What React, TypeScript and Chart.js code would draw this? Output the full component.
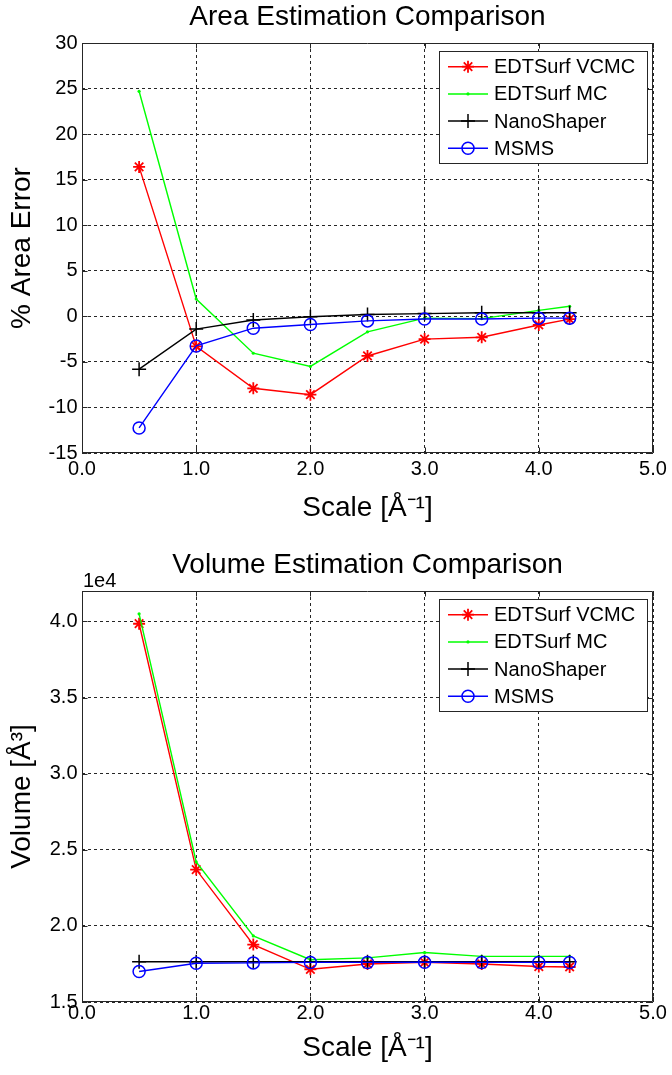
import React, { useEffect, useRef } from 'react';
import { Chart, registerables } from 'chart.js';

Chart.register(...registerables);

const FONT = '"Liberation Sans", Arial, Helvetica, sans-serif';

// ---- data ----
const scaleValues = [0.5, 1.0, 1.5, 2.0, 2.5, 3.0, 3.5, 4.0, 4.27];
const seriesNames = ['EDTSurf VCMC', 'EDTSurf MC', 'NanoShaper', 'MSMS'];

const areaVCMC = [16.4, -3.3, -7.9, -8.6, -4.35, -2.5, -2.3, -0.95, -0.3];
const areaMC = [24.7, 1.9, -4.05, -5.5, -1.7, -0.2, -0.25, 0.65, 1.1];
const areaNano = [-5.8, -1.4, -0.4, -0.05, 0.2, 0.3, 0.4, 0.4, 0.4];
const areaMSMS = [-12.25, -3.25, -1.3, -0.9, -0.5, -0.3, -0.3, -0.2, -0.2];

const volVCMC = [39850, 23700, 18770, 17150, 17500, 17600, 17500, 17330, 17300];
const volMC = [40500, 24200, 19340, 17780, 17900, 18250, 18000, 18000, 18000];
const volNano = [17640, 17640, 17640, 17650, 17650, 17650, 17650, 17650, 17650];
const volMSMS = [17000, 17550, 17570, 17600, 17600, 17610, 17600, 17600, 17600];

const xTickValues = [0, 1, 2, 3, 4, 5];
const areaTickStep = 5;
const volTickStep = 5000;

const seriesColors = ['#ff0000', '#00ff00', '#000000', '#0000ff'];
const seriesMarkers = ['star', 'dot', 'cross', 'circle'];

type Marker = 'star' | 'dot' | 'cross' | 'circle';

function pointProps(style: Marker, color: string) {
  switch (style) {
    case 'star':
      return { pointStyle: 'star', pointRadius: 6, pointBorderWidth: 1.8, pointBackgroundColor: color, pointBorderColor: color };
    case 'dot':
      return { pointStyle: 'circle', pointRadius: 1.6, pointBorderWidth: 0, pointBackgroundColor: color, pointBorderColor: color };
    case 'cross':
      return { pointStyle: 'cross', pointRadius: 7, pointBorderWidth: 1.5, pointBackgroundColor: color, pointBorderColor: color };
    default:
      return { pointStyle: 'circle', pointRadius: 6, pointBorderWidth: 1.5, pointBackgroundColor: 'rgba(0,0,0,0)', pointBorderColor: color };
  }
}

function drawMarker(ctx: CanvasRenderingContext2D, style: Marker, x: number, y: number, color: string) {
  ctx.save();
  ctx.strokeStyle = color;
  ctx.fillStyle = color;
  if (style === 'star') {
    ctx.lineWidth = 1.8;
    const r = 6;
    ctx.beginPath();
    for (let k = 0; k < 4; k++) {
      const a = (k * Math.PI) / 4;
      ctx.moveTo(x - r * Math.cos(a), y - r * Math.sin(a));
      ctx.lineTo(x + r * Math.cos(a), y + r * Math.sin(a));
    }
    ctx.stroke();
  } else if (style === 'dot') {
    ctx.beginPath();
    ctx.arc(x, y, 1.6, 0, Math.PI * 2);
    ctx.fill();
  } else if (style === 'cross') {
    ctx.lineWidth = 1.5;
    ctx.beginPath();
    ctx.moveTo(x - 7, y);
    ctx.lineTo(x + 7, y);
    ctx.moveTo(x, y - 7);
    ctx.lineTo(x, y + 7);
    ctx.stroke();
  } else {
    ctx.lineWidth = 1.5;
    ctx.beginPath();
    ctx.arc(x, y, 6, 0, Math.PI * 2);
    ctx.stroke();
  }
  ctx.restore();
}

function makeDecor(exponent: string | null) {
  return {
    id: 'matlabDecor',
    beforeDatasetsDraw(chart: any) {
      const { ctx, chartArea: a, scales } = chart;
      const L = Math.round(a.left) + 0.5;
      const R = Math.round(a.right) - 0.5;
      const T = Math.round(a.top) + 0.5;
      const B = Math.round(a.bottom) - 0.5;
      ctx.save();
      ctx.strokeStyle = '#262626';
      ctx.lineWidth = 1;
      ctx.beginPath();
      ctx.rect(L, T, R - L, B - T);
      const tl = 5;
      scales.x.ticks.forEach((t: any) => {
        const px = Math.round(scales.x.getPixelForValue(t.value)) + 0.5;
        ctx.moveTo(px, B);
        ctx.lineTo(px, B - tl);
        ctx.moveTo(px, T);
        ctx.lineTo(px, T + tl);
      });
      scales.y.ticks.forEach((t: any) => {
        const py = Math.round(scales.y.getPixelForValue(t.value)) + 0.5;
        ctx.moveTo(L, py);
        ctx.lineTo(L + tl, py);
        ctx.moveTo(R, py);
        ctx.lineTo(R - tl, py);
      });
      ctx.stroke();
      ctx.restore();
    },
    afterDraw(chart: any) {
      const { ctx, chartArea: a } = chart;
      ctx.save();
      // legend box
      const bw = 208;
      const bh = 112;
      const bx = Math.round(a.right) - 6 - bw;
      const by = Math.round(a.top) + 8;
      ctx.fillStyle = '#ffffff';
      ctx.fillRect(bx, by, bw, bh);
      ctx.strokeStyle = '#262626';
      ctx.lineWidth = 1;
      ctx.strokeRect(bx + 0.5, by + 0.5, bw, bh);
      ctx.font = `20px ${FONT}`;
      ctx.textBaseline = 'middle';
      ctx.textAlign = 'left';
      chart.data.datasets.forEach((ds: any, i: number) => {
        const ry = by + 15.7 + i * 27.2;
        const color = ds.borderColor as string;
        ctx.strokeStyle = color;
        ctx.lineWidth = 1.5;
        ctx.beginPath();
        ctx.moveTo(bx + 9, ry);
        ctx.lineTo(bx + 49, ry);
        ctx.stroke();
        drawMarker(ctx, ds.marker as Marker, bx + 29, ry, color);
        ctx.fillStyle = '#000';
        ctx.fillText(ds.label, bx + 55, ry + 1);
      });
      if (exponent) {
        ctx.fillStyle = '#000';
        ctx.font = `20px ${FONT}`;
        ctx.textBaseline = 'alphabetic';
        ctx.textAlign = 'left';
        ctx.fillText(exponent, a.left + 1, a.top - 4);
      }
      ctx.restore();
    },
  };
}

type Params = {
  title: string;
  yTitle: string;
  xTitle: string;
  series: number[][];
  yMin: number;
  yMax: number;
  yStep: number;
  yFormat: (v: number) => string;
  height: number;
  xAxisHeight: number;
  xTickPad: number;
  xTitlePadBottom: number;
  exponent: string | null;
};

function buildConfig(p: Params): any {
  const datasets = p.series.map((vals, i) => {
    const color = seriesColors[i];
    const marker = seriesMarkers[i] as Marker;
    return {
      label: seriesNames[i],
      data: vals.map((v, j) => ({ x: scaleValues[j], y: v })),
      borderColor: color,
      borderWidth: 1.4,
      fill: false,
      tension: 0,
      order: 3 - i,
      marker,
      ...pointProps(marker, color),
    };
  });
  return {
    type: 'line',
    data: { datasets },
    plugins: [makeDecor(p.exponent)],
    options: {
      responsive: false,
      animation: false,
      events: [],
      layout: { padding: { left: 0, right: 19, top: 0, bottom: 0 } },
      plugins: {
        legend: { display: false },
        tooltip: { enabled: false },
        title: {
          display: true,
          text: p.title,
          fullSize: false,
          color: '#000',
          font: { family: FONT, size: 28, weight: 'normal', lineHeight: 1.2 },
          padding: { top: 0.2, bottom: 9.2 },
        },
      },
      scales: {
        x: {
          type: 'linear',
          min: 0,
          max: 5,
          afterBuildTicks: (s: any) => {
            s.ticks = xTickValues.map((v) => ({ value: v }));
          },
          afterFit: (s: any) => {
            s.height = p.xAxisHeight;
          },
          ticks: {
            color: '#000',
            font: { family: FONT, size: 20 },
            padding: p.xTickPad,
            maxRotation: 0,
            autoSkip: false,
            callback: (v: number) => Number(v).toFixed(1),
          },
          grid: { color: '#262626', lineWidth: 1, drawTicks: false },
          border: { display: false, dash: [3, 3] },
          title: {
            display: true,
            text: p.xTitle,
            color: '#000',
            font: { family: FONT, size: 28, lineHeight: 1.2 },
            padding: { top: 0, bottom: p.xTitlePadBottom },
          },
        },
        y: {
          type: 'linear',
          min: p.yMin,
          max: p.yMax,
          afterBuildTicks: (s: any) => {
            const t: any[] = [];
            for (let v = p.yMin; v <= p.yMax + 1e-9; v += p.yStep) t.push({ value: v });
            s.ticks = t;
          },
          afterFit: (s: any) => {
            s.width = 82;
          },
          ticks: {
            color: '#000',
            font: { family: FONT, size: 20 },
            padding: 4.5,
            callback: (v: number) => p.yFormat(Number(v)),
          },
          grid: { color: '#262626', lineWidth: 1, drawTicks: false },
          border: { display: false, dash: [3, 3] },
          title: {
            display: true,
            text: p.yTitle,
            color: '#000',
            font: { family: FONT, size: 28, lineHeight: 1.2 },
            padding: { top: 5.7, bottom: 0 },
          },
        },
      },
    },
  };
}

function ChartCanvas({ params, top }: { params: Params; top: number }) {
  const ref = useRef<HTMLCanvasElement>(null);
  useEffect(() => {
    if (!ref.current) return;
    const chart = new Chart(ref.current, buildConfig(params));
    return () => chart.destroy();
  }, []);
  return (
    <canvas
      ref={ref}
      width={672}
      height={params.height}
      style={{ position: 'absolute', left: 0, top, width: 672, height: params.height, display: 'block' }}
    />
  );
}

const areaParams: Params = {
  title: 'Area Estimation Comparison',
  yTitle: '% Area Error',
  xTitle: 'Scale [Å⁻¹]',
  series: [areaVCMC, areaMC, areaNano, areaMSMS],
  yMin: -15,
  yMax: 30,
  yStep: areaTickStep,
  yFormat: (v) => String(Math.round(v)),
  height: 548,
  xAxisHeight: 95,
  xTickPad: 4,
  xTitlePadBottom: 23,
  exponent: null,
};

const volParams: Params = {
  title: 'Volume Estimation Comparison',
  yTitle: 'Volume [Å³]',
  xTitle: 'Scale [Å⁻¹]',
  series: [volVCMC, volMC, volNano, volMSMS],
  yMin: 15000,
  yMax: 42000,
  yStep: volTickStep,
  yFormat: (v) => (v / 1e4).toFixed(1),
  height: 527,
  xAxisHeight: 73,
  xTickPad: -1,
  xTitlePadBottom: 10,
  exponent: '1e4',
};

export default function App() {
  return (
    <div style={{ position: 'absolute', left: 0, top: 0, width: 672, height: 1075, background: '#ffffff', overflow: 'hidden' }}>
      <ChartCanvas params={areaParams} top={0} />
      <ChartCanvas params={volParams} top={548} />
    </div>
  );
}
